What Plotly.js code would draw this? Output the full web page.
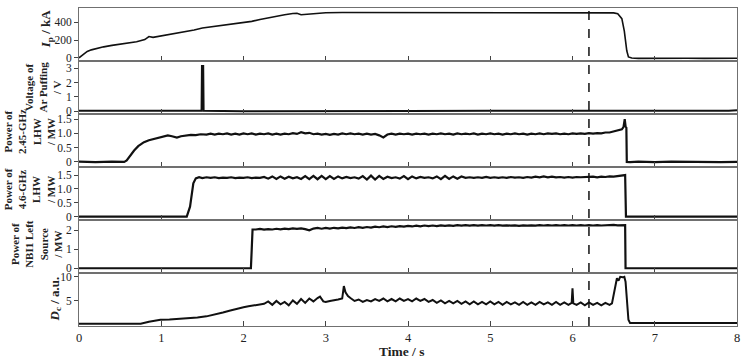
<!DOCTYPE html>
<html>
<head>
<meta charset="utf-8">
<script src="https://cdn.plot.ly/plotly-3.0.1.min.js"></script>
<style>html,body{margin:0;padding:0;background:#fff;}#chart{width:751px;height:358px;}</style>
</head>
<body>
<div id="chart"></div>
<script>
// ---------- data ----------
const ipT = [0,0.05,0.1,0.15,0.2,0.26,0.3,0.4,0.5,0.6,0.7,0.8,0.85,0.9,1.0,1.1,1.2,1.3,1.4,1.5,1.6,1.7,1.8,1.9,2.0,2.1,2.2,2.3,2.4,2.5,2.6,2.65,2.7,2.8,2.9,3.0,3.2,3.5,4.0,4.5,5.0,5.5,6.0,6.3,6.5,6.55,6.6,6.63,6.66,6.68,6.72,6.8,7.0,7.2,7.4,7.6,7.8,8.0];
const ipV = [0,40,72,90,102,118,124,140,152,168,182,205,240,230,245,262,280,296,312,335,348,358,368,380,395,410,430,450,468,485,498,500,484,490,500,507,510,510,508,510,506,509,507,506,505,495,440,300,80,10,-2,-5,-3,-8,-4,-6,-3,-4];

const arT = [0,0.5,1.0,1.49,1.495,1.51,1.515,2,3,4,5,6,7,7.9,8];
const arV = [0.02,0.0,0.03,0.02,3.15,3.15,0.02,0.0,0.03,0.01,0.02,0.0,0.02,0.02,0.06];

const lh245T = [0,0.2,0.4,0.55,0.58,0.62,0.67,0.72,0.79,0.85,0.91,0.97,1.03,1.08,1.13,1.19,1.24,1.3,1.36,1.42,1.48,1.55,
1.60,1.65,1.70,1.75,1.80,1.85,1.90,1.95,2.00,2.05,2.10,2.15,2.20,2.25,2.30,2.35,2.40,2.45,2.50,2.55,2.60,2.65,2.70,2.75,2.80,2.85,2.90,2.95,
3.00,3.05,3.10,3.15,3.20,3.25,3.30,3.35,3.40,3.45,3.50,3.55,3.60,3.65,3.70,3.75,3.80,3.85,3.90,3.95,4.00,4.05,4.10,4.15,4.20,4.25,4.30,4.35,4.40,4.45,
4.50,4.55,4.60,4.65,4.70,4.75,4.80,4.85,4.90,4.95,5.00,5.05,5.10,5.15,5.20,5.25,5.30,5.35,5.40,5.45,5.50,5.55,5.60,5.65,5.70,5.75,5.80,5.85,5.90,5.95,
6.00,6.05,6.10,6.15,6.20,6.25,6.30,6.35,6.40,6.45,6.50,6.55,6.60,6.62,6.635,6.645,6.655,6.66,6.7,6.8,7.0,7.2,7.4,7.6,7.8,8.0];
const lh245V = [0.01,-0.01,0.01,0.0,0.05,0.22,0.40,0.55,0.69,0.76,0.81,0.86,0.90,0.93,0.90,0.85,0.90,0.92,0.95,0.94,0.97,0.96,
0.99,0.96,0.99,0.97,1.00,0.96,0.99,0.96,1.00,0.97,1.00,0.96,0.99,0.97,1.00,0.96,0.99,0.96,0.99,0.97,1.01,0.98,1.04,1.00,1.02,0.97,0.99,0.96,
0.98,0.95,0.98,0.96,1.00,0.97,1.00,0.97,0.99,0.96,0.99,0.96,0.98,0.93,0.86,0.96,0.99,0.96,0.99,0.97,0.99,0.96,0.99,0.97,0.99,0.96,0.99,0.97,1.00,0.97,
0.99,0.96,1.00,0.97,0.99,0.97,1.00,0.96,0.99,0.97,1.00,0.97,0.99,0.96,0.99,0.97,1.00,0.97,0.99,0.96,0.99,0.97,1.00,0.97,1.00,0.98,1.00,0.97,0.99,0.97,
1.00,0.98,1.00,0.98,1.01,0.99,1.01,1.00,1.03,1.03,1.07,1.10,1.14,1.22,1.50,1.25,1.20,0.0,-0.01,0.01,-0.01,0.01,0.0,0.01,-0.01,0.0];

const lh46T = [0,0.5,1.0,1.31,1.35,1.39,1.42,1.46,
1.50,1.55,1.60,1.65,1.70,1.75,1.80,1.85,1.90,1.95,2.00,2.05,2.10,2.15,2.20,2.25,2.30,2.35,2.40,2.45,2.50,2.55,2.60,2.65,2.70,2.75,2.80,2.85,2.90,2.95,
3.00,3.05,3.10,3.15,3.20,3.25,3.30,3.35,3.40,3.45,3.50,3.55,3.60,3.65,3.70,3.75,3.80,3.85,3.90,3.95,4.00,4.05,4.10,4.15,4.20,4.25,4.30,4.35,4.40,4.45,
4.50,4.55,4.60,4.65,4.70,4.75,4.80,4.85,4.90,4.95,5.00,5.05,5.10,5.15,5.20,5.25,5.30,5.35,5.40,5.45,5.50,5.55,5.60,5.65,5.70,5.75,5.80,5.85,5.90,5.95,
6.00,6.05,6.10,6.15,6.20,6.25,6.30,6.35,6.40,6.45,6.50,6.55,6.60,6.64,6.65,6.7,7.0,7.5,8.0];
const lh46V = [0,0.01,0,0.0,0.36,1.20,1.38,1.42,
1.39,1.42,1.40,1.42,1.39,1.41,1.40,1.42,1.39,1.41,1.40,1.42,1.39,1.41,1.40,1.43,1.37,1.45,1.36,1.45,1.37,1.44,1.38,1.42,1.36,1.46,1.35,1.47,1.35,1.47,
1.35,1.46,1.36,1.45,1.38,1.43,1.39,1.42,1.37,1.46,1.34,1.48,1.34,1.47,1.36,1.44,1.39,1.42,1.37,1.46,1.35,1.45,1.38,1.43,1.40,1.42,1.38,1.45,1.35,1.47,
1.36,1.45,1.37,1.45,1.40,1.42,1.40,1.42,1.40,1.43,1.40,1.42,1.40,1.42,1.40,1.43,1.41,1.42,1.40,1.43,1.41,1.44,1.42,1.45,1.42,1.44,1.42,1.43,1.41,1.43,
1.41,1.43,1.42,1.43,1.42,1.44,1.42,1.44,1.43,1.45,1.44,1.47,1.48,1.50,0.0,0.0,0.01,0.0,0.0];

const nbiT = [0,1,2.09,2.10,2.11,
2.15,2.20,2.25,2.30,2.35,2.40,2.45,2.50,2.55,2.60,2.65,2.70,2.75,2.80,2.85,2.90,2.95,
3.00,3.05,3.10,3.15,3.20,3.25,3.30,3.35,3.40,3.45,3.50,3.55,3.60,3.65,3.70,3.75,3.80,3.85,3.90,3.95,4.00,4.05,4.10,4.15,4.20,4.25,4.30,4.35,4.40,4.45,
4.50,4.55,4.60,4.65,4.70,4.75,4.80,4.85,4.90,4.95,5.00,5.05,5.10,5.15,5.20,5.25,5.30,5.35,5.40,5.45,5.50,5.55,5.60,5.65,5.70,5.75,5.80,5.85,5.90,5.95,
6.00,6.05,6.10,6.15,6.20,6.25,6.30,6.35,6.40,6.45,6.50,6.55,6.60,6.64,6.645,7,8];
const nbiV = [0,0,0,1.0,2.04,
2.04,2.07,2.03,2.06,2.04,2.08,2.05,2.09,2.06,2.10,2.07,2.10,2.06,2.00,2.09,2.12,2.08,
2.12,2.09,2.13,2.10,2.14,2.11,2.15,2.12,2.16,2.13,2.17,2.14,2.19,2.16,2.20,2.17,2.21,2.18,2.22,2.19,2.23,2.20,2.24,2.21,2.25,2.22,2.25,2.22,2.26,2.23,
2.26,2.23,2.27,2.24,2.27,2.24,2.27,2.24,2.27,2.25,2.27,2.24,2.27,2.24,2.26,2.24,2.26,2.23,2.26,2.24,2.26,2.24,2.27,2.25,2.27,2.25,2.27,2.25,2.27,2.25,
2.27,2.25,2.27,2.25,2.27,2.25,2.27,2.25,2.27,2.26,2.28,2.26,2.28,2.27,0.0,0,0];

const daT = [0,0.4,0.75,0.85,0.99,1.1,1.23,1.35,1.44,1.55,1.64,1.75,1.84,1.92,2.00,2.06,2.12,2.18,
2.25,2.30,2.35,2.40,2.45,2.50,2.55,2.60,2.65,2.70,2.75,2.80,2.85,2.90,2.93,2.97,3.00,3.05,3.10,3.15,3.20,3.22,3.24,3.27,3.30,3.35,3.40,3.45,3.50,3.55,3.60,
3.65,3.70,3.75,3.80,3.85,3.90,3.95,4.00,4.05,4.10,4.15,4.20,4.25,4.30,4.35,4.40,4.45,4.50,4.55,4.60,4.65,4.70,4.75,4.80,4.85,4.90,4.95,
5.00,5.05,5.10,5.15,5.20,5.25,5.30,5.35,5.40,5.45,5.50,5.55,5.60,5.65,5.70,5.75,5.80,5.85,5.90,5.95,5.99,6.0,6.01,6.05,6.10,6.15,6.20,6.25,6.30,6.35,6.40,6.45,6.48,
6.50,6.52,6.54,6.56,6.58,6.61,6.63,6.645,6.66,6.68,6.70,7.0,7.5,8.0];
const daV = [0.25,0.25,0.27,0.7,1.1,1.15,1.25,1.4,1.57,1.8,2.1,2.6,3.0,3.4,3.7,3.9,4.1,4.3,
4.4,4.9,4.2,5.0,4.3,4.8,4.1,5.1,4.4,5.4,4.6,5.5,4.9,5.6,5.9,4.9,4.8,5.0,5.1,5.3,5.5,8.1,6.8,6.0,5.6,5.0,5.3,4.8,5.2,4.9,5.4,
5.0,5.5,4.9,5.4,4.9,5.5,5.0,5.4,4.9,5.5,5.0,5.4,4.8,5.2,4.6,5.1,4.5,5.0,4.5,5.0,4.4,4.9,4.3,4.9,4.3,4.8,4.3,
4.9,4.3,4.8,4.2,4.8,4.3,4.7,4.2,4.8,4.2,4.7,4.2,4.8,4.3,4.7,4.2,4.8,4.2,4.7,4.2,4.6,7.6,4.5,4.2,4.7,4.1,4.7,4.2,4.6,4.1,4.6,4.2,4.5,
6.5,8.5,9.7,9.2,10.0,9.9,10.0,9.0,4.5,1.1,0.4,0.35,0.4,0.4];

const xTickVals = [0,1,2,3,4,5,6,7,8];
const xTickText = ['0','1','2','3','4','5','6','7','8'];
const xTitle = 'Time / s';
const dashedT = 6.2;

const panelRanges = [[-35,560],[-0.2,3.5],[-0.18,1.68],[-0.12,1.79],[-0.25,2.54],[-0.2,10.8]];
const panelTickVals = [[0,200,400],[0,1,2,3],[0,0.5,1.0,1.5],[0,0.5,1.0,1.5],[0,1,2],[5,10]];
const panelTickText = [['0','200','400'],['0','1','2','3'],['0','0.5','1.0','1.5'],['0','0.5','1.0','1.5'],['0','1','2'],['5','10']];
const panelTitles = [
  '<i>I</i><sub>p</sub> / kA',
  'Voltage of<br>Ar Puffing<br>/ V',
  'Power of<br>2.45-GHz<br>LHW<br>/ MW',
  'Power of<br>4.6-GHz<br>LHW<br>/ MW',
  'Power of<br>NBI1 Left<br>Source<br>/ MW',
  '<i>D</i><sub>c</sub> / a.u.'
];
const seriesT = [ipT, arT, lh245T, lh46T, nbiT, daT];
const seriesV = [ipV, arV, lh245V, lh46V, nbiV, daV];

// ---------- layout ----------
const W = 751, H = 358;
const L = 79, R = 14, T = 8, B = 32;
const PW = W - L - R, PH = H - T - B;
const titlePx = [46, 43, 29, 29, 37, 55];
const titleY = [0.6, 0.5, 0.66, 0.58, 0.55, 0.5];
const titleSize = [13, 11, 11, 11, 11, 13];
const lineW = [1.6, 2, 2.2, 2.2, 2.2, 2];

const serif = 'Liberation Serif, Times New Roman, serif';
const lineColor = '#707070';
const traces = [];
const layout = {
  width: W, height: H,
  margin: {l: L, r: R, t: T, b: B},
  paper_bgcolor: '#fff', plot_bgcolor: '#fff',
  showlegend: false,
  font: {family: serif, color: '#222', size: 12},
  annotations: [{
    text: '<b>' + xTitle + '</b>', xref: 'paper', x: 0.5 - 6 / PW, xanchor: 'center',
    yref: 'paper', y: -(351.5 - (H - B)) / PH, yanchor: 'middle', showarrow: false, borderpad: 0,
    font: {family: serif, size: 13.5, color: '#222'}
  }],
  shapes: [{type: 'line', xref: 'x', yref: 'paper', x0: dashedT, x1: dashedT, y0: 0, y1: 1,
            line: {color: '#111', width: 1.5, dash: 'dash'}}]
};

const n = 6;
for (let k = 0; k < n; k++) {
  const id = k + 1;
  const xa = 'xaxis' + (id === 1 ? '' : id);
  const ya = 'yaxis' + (id === 1 ? '' : id);
  const xr = 'x' + (id === 1 ? '' : id);
  const yr = 'y' + (id === 1 ? '' : id);
  const top = 1 - k / n, bot = 1 - (k + 1) / n;
  const isBottom = (k === n - 1);
  layout[xa] = {
    domain: [0, 1], range: [0, 8], anchor: yr,
    showline: true, mirror: true, linecolor: lineColor, linewidth: 1,
    ticks: 'inside', ticklen: 5, tickcolor: '#444',
    tickvals: xTickVals, ticktext: xTickText,
    showticklabels: isBottom, showgrid: false, zeroline: false,
    tickfont: {family: serif, size: 12.5, color: '#222'}
  };
  if (id > 1) layout[xa].matches = 'x';
  layout[ya] = {
    domain: [bot, top], range: panelRanges[k], anchor: xr,
    showline: true, mirror: true, linecolor: lineColor, linewidth: 1,
    ticks: 'outside', ticklen: 4, tickcolor: '#444',
    tickvals: panelTickVals[k], ticktext: panelTickText[k],
    showgrid: false, zeroline: false,
    tickfont: {family: serif, size: 11.5, color: '#222'}
  };
  traces.push({
    type: 'scatter', mode: 'lines', x: seriesT[k], y: seriesV[k],
    xaxis: xr, yaxis: yr,
    line: {color: '#111', width: lineW[k]}, hoverinfo: 'skip'
  });
  layout.annotations.push({
    text: '<b>' + panelTitles[k] + '</b>', textangle: -90,
    xref: 'paper', x: (titlePx[k] - L) / PW, xanchor: 'center',
    yref: yr + ' domain', y: titleY[k], yanchor: 'middle',
    showarrow: false, borderpad: 0,
    font: {family: serif, size: titleSize[k], color: '#222'}
  });
}

Plotly.newPlot('chart', traces, layout, {staticPlot: true, displayModeBar: false});
</script>
</body>
</html>
